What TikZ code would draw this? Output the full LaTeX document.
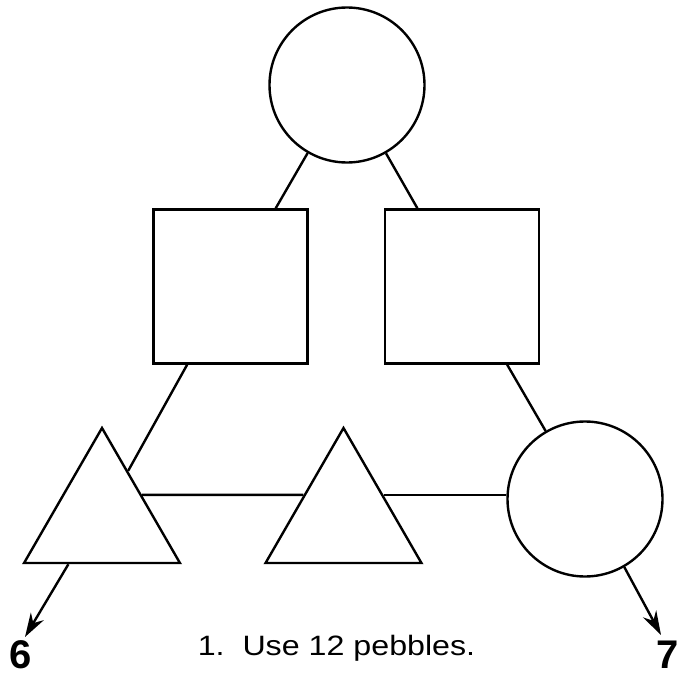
\documentclass[tikz,border=0pt]{standalone}
\usepackage{fontspec}
\setmainfont{Liberation Sans}
\usepackage{tikz}
\usetikzlibrary{shapes.geometric,arrows.meta,calc}
\tikzset{
  pebble/.style={circle,draw,line width=2.4pt,minimum size=155pt,inner sep=0pt},
  box/.style={rectangle,draw,line width=2.4pt,minimum size=154pt,inner sep=0pt},
  tri/.style={regular polygon,regular polygon sides=3,draw,line width=2.4pt,minimum size=180pt,inner sep=0pt},
  link/.style={line width=2.4pt},
  exit/.style={link,-{Stealth[length=24pt,width=15pt]}},
  digit/.style={font=\fontsize{40}{42}\selectfont\bfseries,inner sep=0pt}
}
\begin{document}
\begin{tikzpicture}[x=1pt,y=-1pt]
    \useasboundingbox (0,0) rectangle (680,677);
    \node[pebble](top)at(347,85){};
    \node[box](lsq)at(230.5,286.5){};
    \node[box](rsq)at(462,286.5){};
    \node[tri](ltri)at(102,518){};
    \node[tri](mtri)at(343.5,518){};
    \node[pebble](rcir)at(585,499){};
    \draw[link](top)--(lsq);
    \draw[link](top)--(rsq);
    \draw[link](lsq)--(ltri);
    \draw[link](rsq)--(rcir);
    \draw[link](ltri.side 3)--(mtri.side 1);
    \draw[link](mtri.side 3)--(mtri.side 3 -| rcir.west);
    % the two ways out
    \coordinate(six)at(25,637);
    \coordinate(seven)at(661,635);
    \draw[exit]($(ltri.corner 2)!.29!(ltri.corner 3)$)--(six);
    \draw[exit](rcir.-60)--(seven);
    \node[digit](n6)at(21,655){6};
    \node[digit](n7)at(668,655){7};
    \node[font=\fontsize{28}{30}\selectfont,anchor=base](cap)at(336.5,655){\scalebox{1.15}[1]{1.\ \ Use 12 pebbles.}};
\end{tikzpicture}
\end{document}
